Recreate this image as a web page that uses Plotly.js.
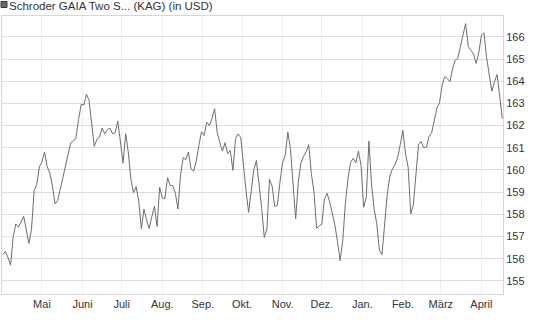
<!DOCTYPE html>
<html>
<head>
<meta charset="utf-8">
<script src="https://cdn.plot.ly/plotly-3.0.1.min.js"></script>
<style>
html,body{margin:0;padding:0;background:#fff;}
#chart{width:545px;height:327px;}
</style>
</head>
<body>
<div id="chart"></div>
<script>
const seriesName = 'Schroder GAIA Two S... (KAG) (in USD)';

const dates = [
 '2023-04-01','2023-04-03','2023-04-05','2023-04-07','2023-04-09','2023-04-11','2023-04-13','2023-04-15','2023-04-17','2023-04-19','2023-04-21','2023-04-23','2023-04-25','2023-04-27','2023-04-29',
 '2023-05-01','2023-05-03','2023-05-05','2023-05-07','2023-05-09','2023-05-11','2023-05-13','2023-05-15','2023-05-17','2023-05-19','2023-05-21','2023-05-23','2023-05-25','2023-05-27','2023-05-29','2023-05-31',
 '2023-06-02','2023-06-04','2023-06-06','2023-06-08','2023-06-10','2023-06-12','2023-06-14','2023-06-16','2023-06-18','2023-06-20','2023-06-22','2023-06-24','2023-06-26','2023-06-28','2023-06-30',
 '2023-07-02','2023-07-04','2023-07-06','2023-07-08','2023-07-10','2023-07-12','2023-07-14','2023-07-16','2023-07-18','2023-07-20','2023-07-22','2023-07-24','2023-07-26','2023-07-28','2023-07-30',
 '2023-08-01','2023-08-03','2023-08-05','2023-08-07','2023-08-09','2023-08-11','2023-08-13','2023-08-15','2023-08-17','2023-08-19','2023-08-21','2023-08-23','2023-08-25','2023-08-27','2023-08-29','2023-08-31',
 '2023-09-02','2023-09-04','2023-09-06','2023-09-08','2023-09-10','2023-09-12','2023-09-14','2023-09-16','2023-09-18','2023-09-20','2023-09-22','2023-09-24','2023-09-26','2023-09-28','2023-09-30',
 '2023-10-02','2023-10-04','2023-10-06','2023-10-08','2023-10-10','2023-10-12','2023-10-14','2023-10-16','2023-10-18','2023-10-20','2023-10-22','2023-10-24','2023-10-26','2023-10-28','2023-10-30',
 '2023-11-01','2023-11-03','2023-11-05','2023-11-07','2023-11-09','2023-11-11','2023-11-13','2023-11-15','2023-11-17','2023-11-19','2023-11-21','2023-11-23','2023-11-25','2023-11-27','2023-11-29',
 '2023-12-01','2023-12-03','2023-12-05','2023-12-07','2023-12-09','2023-12-11','2023-12-13','2023-12-15','2023-12-17','2023-12-19','2023-12-21','2023-12-23','2023-12-25','2023-12-27','2023-12-29','2023-12-31',
 '2024-01-02','2024-01-04','2024-01-06','2024-01-08','2024-01-10','2024-01-12','2024-01-14','2024-01-16','2024-01-18','2024-01-20','2024-01-22','2024-01-24','2024-01-26','2024-01-28','2024-01-30',
 '2024-02-01','2024-02-03','2024-02-05','2024-02-07','2024-02-09','2024-02-11','2024-02-13','2024-02-15','2024-02-17','2024-02-19','2024-02-21','2024-02-23','2024-02-25','2024-02-27','2024-02-29',
 '2024-03-02','2024-03-04','2024-03-06','2024-03-08','2024-03-10','2024-03-12','2024-03-14','2024-03-16','2024-03-18','2024-03-20','2024-03-22','2024-03-24','2024-03-26','2024-03-28','2024-03-30',
 '2024-04-01','2024-04-03','2024-04-05','2024-04-07','2024-04-09','2024-04-11','2024-04-13','2024-04-15','2024-04-17'
];

const prices = [
 156.18,156.33,156.06,155.71,156.99,157.57,157.42,157.64,157.91,157.30,156.69,157.33,159.07,159.34,160.14,
 160.37,160.81,160.14,159.87,159.27,158.47,158.62,159.13,159.65,160.19,160.76,161.23,161.30,161.45,162.28,162.96,
 162.93,163.41,163.14,161.98,161.06,161.38,161.48,161.89,161.63,161.81,161.89,161.63,161.69,162.21,161.18,
 160.31,161.63,160.81,159.58,158.98,159.25,158.59,157.36,158.23,157.75,157.36,157.90,158.36,157.45,159.22,
 158.74,158.70,159.65,159.30,159.30,158.95,158.24,159.80,160.56,160.46,160.81,160.05,159.95,160.40,161.11,161.72,
 161.56,162.15,162.01,162.31,162.76,161.69,161.23,160.85,161.23,160.73,160.88,159.98,161.41,161.63,161.47,
 160.11,159.09,158.09,159.12,160.01,160.43,159.39,158.27,156.96,157.34,159.58,159.27,158.35,158.41,159.45,
 160.35,160.65,161.71,160.96,159.52,157.79,159.45,160.31,160.61,160.82,161.14,159.83,159.01,157.37,157.48,
 157.55,158.70,158.95,158.56,158.00,157.52,156.77,155.91,156.81,158.49,159.60,160.34,160.53,160.32,160.85,160.20,
 158.32,158.77,161.30,159.37,158.23,157.58,156.39,156.18,157.52,158.88,159.72,160.05,160.25,160.55,161.15,
 161.78,160.73,160.13,158.02,158.44,159.80,161.17,161.27,161.00,161.03,161.51,161.68,162.22,162.79,163.03,
 163.83,164.21,164.12,163.97,164.56,164.95,165.02,165.57,166.05,166.60,165.57,165.40,165.23,164.80,165.26,
 166.08,166.18,165.07,164.30,163.55,163.97,164.30,163.35,162.31
];

const monthTicks = ['2023-05-01','2023-06-01','2023-07-01','2023-08-01','2023-09-01','2023-10-01','2023-11-01','2023-12-01','2024-01-01','2024-02-01','2024-03-01','2024-04-01'];
const monthLabels = ['Mai','Juni','Juli','Aug.','Sep.','Okt.','Nov.','Dez.','Jan.','Feb.','März','April'];
const yTicks = [155,156,157,158,159,160,161,162,163,164,165,166];

const trace = {
  x: dates, y: prices, type: 'scatter', mode: 'lines',
  line: {color: '#6e6e6e', width: 1},
  hoverinfo: 'skip', name: seriesName
};

const layout = {
  width: 545, height: 327,
  margin: {l: 2, r: 42, t: 16, b: 33, pad: 0},
  paper_bgcolor: '#ffffff', plot_bgcolor: '#ffffff',
  font: {family: '"Liberation Sans", Arial, sans-serif', size: 11, color: '#333333'},
  showlegend: false,
  title: {
    text: seriesName, xref: 'container', yref: 'container',
    x: 9/545, xanchor: 'left', y: 1 - 5.5/327, yanchor: 'middle',
    font: {family: '"Liberation Sans", Arial, sans-serif', size: 11.5, color: '#333333'}
  },
  xaxis: {
    type: 'date', range: ['2023-03-31 10:20', '2024-04-17 13:12'],
    tickmode: 'array', tickvals: monthTicks, ticktext: monthLabels,
    showgrid: true, gridcolor: '#efefef', gridwidth: 1,
    showline: true, linecolor: '#d6d6d6', linewidth: 1, mirror: true,
    ticks: '', zeroline: false, fixedrange: true
  },
  yaxis: {
    side: 'right', range: [154.41, 166.94],
    tickmode: 'array', tickvals: yTicks,
    showgrid: true, gridcolor: '#dedede', gridwidth: 1,
    showline: true, linecolor: '#d6d6d6', linewidth: 1, mirror: true,
    ticks: '', zeroline: false, fixedrange: true
  },
  shapes: [{
    type: 'rect', xref: 'paper', yref: 'paper',
    xsizemode: 'pixel', ysizemode: 'pixel', xanchor: 0, yanchor: 1,
    x0: -1, x1: 5, y0: 8.5, y1: 14.5,
    fillcolor: '#6a6a6a', line: {color: '#3c3c3c', width: 1}
  }]
};

Plotly.newPlot('chart', [trace], layout, {staticPlot: true, displayModeBar: false});
</script>
</body>
</html>
